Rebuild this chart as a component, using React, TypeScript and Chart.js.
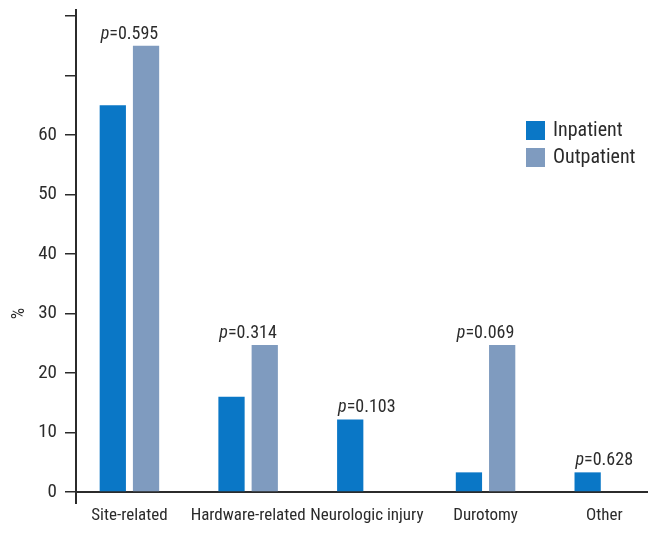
import React, { useEffect, useRef } from "react";
import { Chart, registerables } from "chart.js";

Chart.register(...registerables);

const categories = ["Site-related", "Hardware-related", "Neurologic injury", "Durotomy", "Other"];
const inpatient = [65, 16, 12.2, 3.3, 3.3];
const outpatient = [75, 24.7, 0, 24.7, 0];
const pValues = ["0.595", "0.314", "0.103", "0.069", "0.628"];
const yTicks = [0, 10, 20, 30, 40, 50, 60, 70, 80];
const labeledMax = 60;
const xMin = -0.45;
const xMax = 4.36;

const FAMILY = "'Roboto Condensed', 'Open Sans Condensed', 'Open Sans', sans-serif";
const STRETCH = "condensed";
const INK = "#2b2b2b";
const C_IN = "#0a77c6";
const C_OUT = "#7f9bbf";

const font = (size: number, italic = false) =>
  `${italic ? "italic " : ""}${STRETCH} ${size}px ${FAMILY}`;

const pLabelPlugin = {
  id: "pLabels",
  afterDatasetsDraw(chart: any) {
    const ctx = chart.ctx;
    const xs = chart.scales.x;
    const ys = chart.scales.y;
    ctx.save();
    ctx.fillStyle = INK;
    ctx.textBaseline = "alphabetic";
    ctx.textAlign = "left";
    categories.forEach((_, i) => {
      const top = Math.max(inpatient[i] || 0, outpatient[i] || 0);
      const cx = xs.getPixelForValue(i);
      const y = ys.getPixelForValue(top) - 7;
      const rest = "=" + pValues[i];
      ctx.font = font(18, true);
      const w1 = ctx.measureText("p").width;
      ctx.font = font(18);
      const w2 = ctx.measureText(rest).width;
      const x0 = cx - (w1 + w2) / 2;
      ctx.font = font(18, true);
      ctx.fillText("p", x0, y);
      ctx.font = font(18);
      ctx.fillText(rest, x0 + w1, y);
    });
    ctx.restore();
  },
};

const extrasPlugin = {
  id: "extras",
  afterDraw(chart: any) {
    const ctx = chart.ctx;
    const area = chart.chartArea;
    const ys = chart.scales.y;
    ctx.save();
    // y axis continues slightly below the x axis
    ctx.strokeStyle = INK;
    ctx.lineWidth = 2;
    ctx.beginPath();
    ctx.moveTo(area.left, area.bottom);
    ctx.lineTo(area.left, area.bottom + 12);
    ctx.stroke();
    // legend
    const x = area.right - 121;
    let y = area.top + 111;
    ctx.font = font(20);
    ctx.textBaseline = "middle";
    ctx.textAlign = "left";
    chart.data.datasets.forEach((ds: any) => {
      ctx.fillStyle = ds.backgroundColor;
      ctx.fillRect(x, y, 19, 19);
      ctx.fillStyle = INK;
      ctx.fillText(ds.label, x + 27, y + 10);
      y += 27;
    });
    // y axis title
    ctx.translate(11, ys.getPixelForValue(30));
    ctx.rotate(-Math.PI / 2);
    ctx.textAlign = "center";
    ctx.font = font(18);
    ctx.fillText("%", 0, 0);
    ctx.restore();
  },
};

export default function App() {
  const ref = useRef<HTMLCanvasElement>(null);
  useEffect(() => {
    if (!ref.current) return;
    const toXY = (arr: number[]) => arr.map((v, i) => ({ x: i, y: v }));
    const chart = new Chart(ref.current, {
      type: "bar",
      data: {
        datasets: [
          { label: "Inpatient", data: toXY(inpatient), backgroundColor: C_IN, barPercentage: 0.79, categoryPercentage: 0.56 },
          { label: "Outpatient", data: toXY(outpatient), backgroundColor: C_OUT, barPercentage: 0.79, categoryPercentage: 0.56 },
        ],
      },
      options: {
        animation: false,
        responsive: true,
        maintainAspectRatio: false,
        layout: { padding: { top: 2, right: 4, left: 0, bottom: 0 } },
        plugins: { legend: { display: false }, tooltip: { enabled: false } },
        scales: {
          x: {
            type: "linear",
            min: xMin,
            max: xMax,
            offset: false,
            afterBuildTicks: (s: any) => {
              s.ticks = categories.map((_, i) => ({ value: i }));
            },
            afterFit: (s: any) => {
              s.paddingLeft = 0;
              s.paddingRight = 0;
              s.height = 37;
            },
            border: { color: INK, width: 2 },
            grid: { display: false, offset: false, drawOnChartArea: false, tickLength: 0 },
            ticks: {
              color: INK,
              font: { family: FAMILY, size: 17, weight: STRETCH as any },
              padding: 14,
              maxRotation: 0,
              autoSkip: false,
              callback: (v: any) => {
                const i = Number(v);
                return Number.isInteger(i) && categories[i] ? categories[i] : "";
              },
            },
          },
          y: {
            min: 0,
            max: 81,
            afterBuildTicks: (s: any) => {
              s.ticks = yTicks.map((v) => ({ value: v }));
            },
            afterFit: (s: any) => {
              s.width = 68;
              s.paddingTop = 0;
              s.paddingBottom = 0;
            },
            border: { color: INK, width: 2 },
            grid: { drawOnChartArea: false, tickLength: 11, lineWidth: 1.5, color: INK },
            ticks: {
              color: INK,
              font: { family: FAMILY, size: 19, weight: STRETCH as any },
              padding: 8,
              callback: (v: any) => (Number(v) <= labeledMax ? String(v) : ""),
            },
          },
        },
      },
      plugins: [pLabelPlugin, extrasPlugin],
    });
    return () => chart.destroy();
  }, []);
  return (
    <div style={{ width: 643, height: 521, position: "relative" }}>
      <canvas ref={ref} />
    </div>
  );
}
